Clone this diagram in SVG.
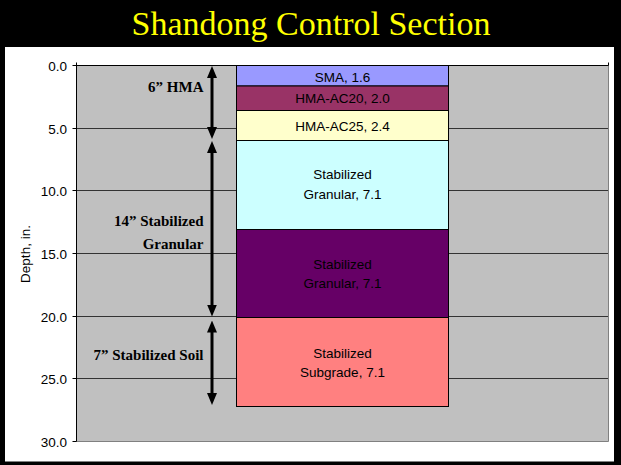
<svg xmlns="http://www.w3.org/2000/svg" width="621" height="465" viewBox="0 0 621 465">
  <style>
    .heading { font-family: "Liberation Serif", "Times New Roman", serif; font-size: 34px; fill: #FFFF00; text-anchor: middle; }
    .tick { font-family: "Liberation Sans", Arial, sans-serif; font-size: 13.5px; fill: #000; text-anchor: end; }
    .axis-title { font-family: "Liberation Sans", Arial, sans-serif; font-size: 13.5px; fill: #000; text-anchor: middle; }
    .layer-label { font-family: "Liberation Sans", Arial, sans-serif; font-size: 13.5px; fill: #000; text-anchor: middle; }
    .dim-label { font-family: "Liberation Serif", "Times New Roman", serif; font-size: 15px; font-weight: bold; fill: #000; text-anchor: end; }
    .grid { stroke: #333; stroke-width: 1; }
    .layer { stroke: #000; stroke-width: 1; }
    .dim { stroke: #000; stroke-width: 3; fill: none; marker-start: url(#head); marker-end: url(#head); }
  </style>
  <defs>
    <marker id="head" viewBox="0 0 12 10" refX="2" refY="5" markerWidth="12" markerHeight="10" markerUnits="userSpaceOnUse" orient="auto-start-reverse">
      <path d="M0,0 L12,5 L0,10 z" fill="#000"/>
    </marker>
  </defs>

  <!-- slide frame -->
  <rect x="0" y="0" width="621" height="465" fill="#000"/>
  <rect x="5" y="47" width="609" height="414.5" fill="#fff"/>
  <text class="heading" x="311" y="35" font-family="'Liberation Serif', 'Times New Roman', serif">Shandong Control Section</text>

  <!-- plot area -->
  <g id="plot">
    <rect x="76.5" y="65.5" width="532" height="376" fill="#C0C0C0"/>
    <line class="grid" x1="76.5" y1="128.5" x2="608.5" y2="128.5"/>
    <line class="grid" x1="76.5" y1="190.5" x2="608.5" y2="190.5"/>
    <line class="grid" x1="76.5" y1="253.5" x2="608.5" y2="253.5"/>
    <line class="grid" x1="76.5" y1="316.5" x2="608.5" y2="316.5"/>
    <line class="grid" x1="76.5" y1="378.5" x2="608.5" y2="378.5"/>
    <!-- border: grey on right and bottom -->
    <polyline points="608.5,65.5 608.5,441.5 76.5,441.5" fill="none" stroke="#808080" stroke-width="1"/>
    <!-- top (category) axis -->
    <line x1="76.5" y1="65.5" x2="608.5" y2="65.5" stroke="#000" stroke-width="1"/>
    <line x1="608.5" y1="62.5" x2="608.5" y2="65.5" stroke="#000" stroke-width="1"/>
    <!-- depth axis -->
    <line x1="76.5" y1="62.5" x2="76.5" y2="441.5" stroke="#000" stroke-width="1"/>
    <g stroke="#000" stroke-width="1">
      <line x1="72.5" y1="65.5" x2="76.5" y2="65.5"/>
      <line x1="72.5" y1="128.5" x2="76.5" y2="128.5"/>
      <line x1="72.5" y1="190.5" x2="76.5" y2="190.5"/>
      <line x1="72.5" y1="253.5" x2="76.5" y2="253.5"/>
      <line x1="72.5" y1="316.5" x2="76.5" y2="316.5"/>
      <line x1="72.5" y1="378.5" x2="76.5" y2="378.5"/>
      <line x1="72.5" y1="441.5" x2="76.5" y2="441.5"/>
    </g>
    <text class="tick" x="67" y="70.5">0.0</text>
    <text class="tick" x="67" y="133.5">5.0</text>
    <text class="tick" x="67" y="195.5">10.0</text>
    <text class="tick" x="67" y="258.5">15.0</text>
    <text class="tick" x="67" y="321.5">20.0</text>
    <text class="tick" x="67" y="383.5">25.0</text>
    <text class="tick" x="67" y="446.5">30.0</text>
    <text class="axis-title" transform="translate(30,254) rotate(-90)">Depth, in.</text>
  </g>

  <!-- pavement layers -->
  <g id="layer-sma">
    <rect class="layer" x="236.5" y="65.5" width="212" height="20.5" fill="#9999FF"/>
    <text class="layer-label" x="342.5" y="81.5">SMA, 1.6</text>
  </g>
  <g id="layer-ac20">
    <rect class="layer" x="236.5" y="86" width="212" height="24.5" fill="#993366"/>
    <text class="layer-label" x="342.5" y="102.5">HMA-AC20, 2.0</text>
  </g>
  <g id="layer-ac25">
    <rect class="layer" x="236.5" y="110.5" width="212" height="30" fill="#FFFFCC"/>
    <text class="layer-label" x="342.5" y="131">HMA-AC25, 2.4</text>
  </g>
  <g id="layer-granular-1">
    <rect class="layer" x="236.5" y="140.5" width="212" height="89" fill="#CCFFFF"/>
    <text class="layer-label" x="342.5" y="179">Stabilized</text>
    <text class="layer-label" x="342.5" y="198.5">Granular, 7.1</text>
  </g>
  <g id="layer-granular-2">
    <rect class="layer" x="236.5" y="229.5" width="212" height="88" fill="#660066"/>
    <text class="layer-label" x="342.5" y="268.5">Stabilized</text>
    <text class="layer-label" x="342.5" y="287.5">Granular, 7.1</text>
  </g>
  <g id="layer-subgrade">
    <rect class="layer" x="236.5" y="317.5" width="212" height="89" fill="#FF8080"/>
    <text class="layer-label" x="342.5" y="358">Stabilized</text>
    <text class="layer-label" x="342.5" y="376.5">Subgrade, 7.1</text>
  </g>

  <!-- thickness dimension arrows -->
  <g id="connectors">
    <line class="dim" x1="212" y1="76" x2="212" y2="129"/>
    <line class="dim" x1="212" y1="151" x2="212" y2="306.5"/>
    <line class="dim" x1="212" y1="330.5" x2="212" y2="395"/>
  </g>
  <g id="label-hma">
    <text class="dim-label" x="203.5" y="92">6” HMA</text>
  </g>
  <g id="label-granular">
    <text class="dim-label" x="203.5" y="226">14” Stabilized</text>
    <text class="dim-label" x="203.5" y="249">Granular</text>
  </g>
  <g id="label-soil">
    <text class="dim-label" x="203.5" y="360">7” Stabilized Soil</text>
  </g>
</svg>
